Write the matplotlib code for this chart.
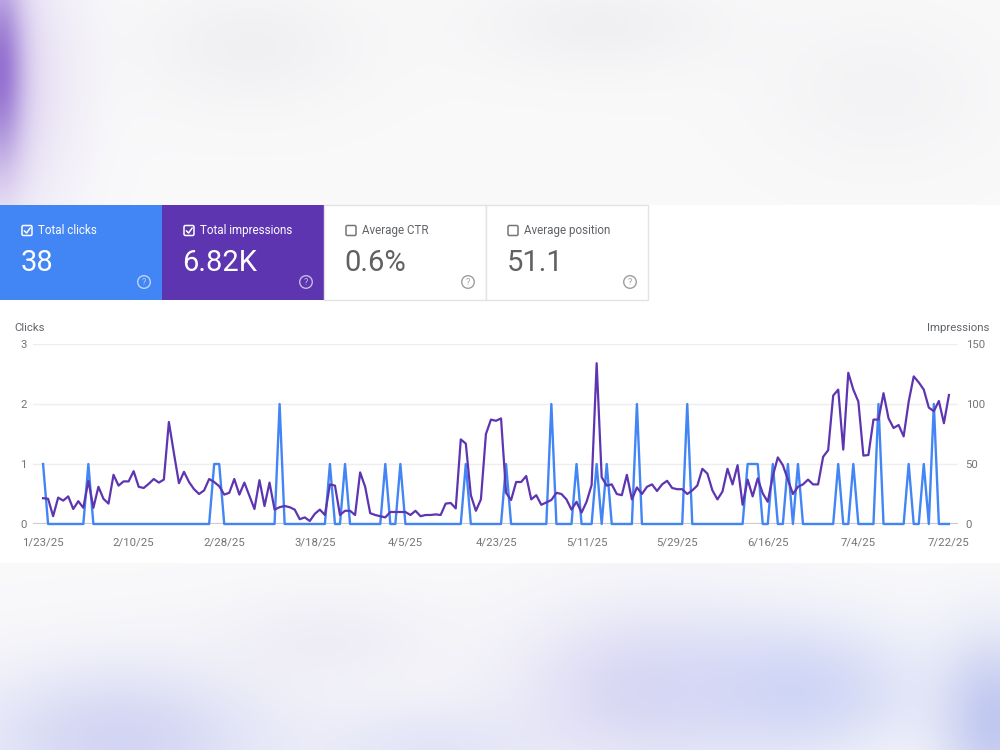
import numpy as np
import matplotlib
matplotlib.use("Agg")
import matplotlib.pyplot as plt
from matplotlib.patches import Rectangle, Circle, FancyBboxPatch

plt.rcParams['font.family'] = ['Roboto', 'DejaVu Sans']

# daily values, 1/23/25 .. 7/22/25 (181 days)
clicks = [
    1, 0, 0, 0, 0, 0, 0, 0, 0, 1,
    0, 0, 0, 0, 0, 0, 0, 0, 0, 0,
    0, 0, 0, 0, 0, 0, 0, 0, 0, 0,
    0, 0, 0, 0, 1, 1, 0, 0, 0, 0,
    0, 0, 0, 0, 0, 0, 0, 2, 0, 0,
    0, 0, 0, 0, 0, 0, 0, 1, 0, 0,
    1, 0, 0, 0, 0, 0, 0, 0, 1, 0,
    0, 1, 0, 0, 0, 0, 0, 0, 0, 0,
    0, 0, 0, 0, 1, 0, 0, 0, 0, 0,
    0, 0, 1, 0, 0, 0, 0, 0, 0, 0,
    0, 2, 0, 0, 0, 0, 1, 0, 0, 0,
    1, 0, 1, 0, 0, 0, 0, 0, 2, 0,
    0, 0, 0, 0, 0, 0, 0, 0, 2, 0,
    0, 0, 0, 0, 0, 0, 0, 0, 0, 0,
    1, 1, 1, 0, 0, 1, 0, 0, 1, 0,
    1, 0, 0, 0, 0, 0, 0, 0, 1, 0,
    0, 1, 0, 0, 0, 0, 2, 0, 0, 0,
    0, 0, 1, 0, 0, 1, 0, 2, 0, 0,
    0,
]
impressions = [
    21.5, 21, 6.5, 22, 19.5, 23, 12.5, 19, 13.5, 36,
    13.5, 31, 21, 17, 41, 32, 35.5, 35.5, 44, 31,
    30, 33.5, 37.5, 34.5, 37, 85, 59, 34, 43.5, 35,
    29, 25, 28, 37.5, 35, 31.5, 24.5, 26, 37.5, 24.5,
    34.5, 23.5, 12.5, 36.5, 15, 34.5, 12, 14, 15, 14,
    12, 4, 5.5, 2.5, 8.5, 12, 7.5, 33, 32, 7.5,
    11, 11, 7.5, 43, 31, 9, 7.5, 6.5, 5.5, 10,
    10, 10, 10, 7.5, 11, 6.5, 7.5, 7.5, 8, 7.5,
    17, 17.5, 13, 70.5, 67, 24, 11, 20.5, 75, 87,
    86, 88, 26, 20, 35, 35, 40, 20.5, 24, 16,
    18, 20, 26, 25, 20.5, 12, 18.5, 9.5, 18.5, 32.5,
    134, 39, 32, 33, 25, 24, 41, 20.5, 30.5, 25,
    31, 33, 27.5, 33, 36, 30, 29, 29, 25, 28,
    32, 46, 42, 28, 20.5, 27, 46, 33, 49, 16,
    37, 23, 38, 25.5, 18.5, 40, 55.5, 49, 37, 25,
    31, 33, 37, 33, 33, 56, 61.5, 107, 112, 62,
    126, 112, 102, 57, 57.5, 87, 87, 109, 88, 80,
    82.5, 73, 102, 123, 118, 112, 97, 94, 102.5, 84,
    107.5,
]
xtick_labels = ["1/23/25", "2/10/25", "2/28/25", "3/18/25", "4/5/25",
                "4/23/25", "5/11/25", "5/29/25", "6/16/25", "7/4/25", "7/22/25"]
tick_step = 18

card_titles = ["Total clicks", "Total impressions", "Average CTR", "Average position"]
card_values = ["38", "6.82K", "0.6%", "51.1"]
card_checked = [True, True, False, False]

BLUE = "#4285f4"
PURPLE = "#5e35b1"
GRAY_TXT = "#757575"

days = np.arange(len(impressions))

fig = plt.figure(figsize=(10, 7.5), dpi=100)

# blurred backdrop of the screenshot
bg = fig.add_axes([0, 0, 1, 1])
bg.set_xlim(0, 1000)
bg.set_ylim(750, 0)
bg.axis("off")

H, W = 750, 1000
yy, xx = np.mgrid[0:H, 0:W]
img = np.ones((H, W, 3)) * np.array([0.978, 0.978, 0.982])

def blob(cx, cy, sx, sy, color, strength):
    w = strength * np.exp(-(((xx - cx) / sx) ** 2 + ((yy - cy) / sy) ** 2) / 2)
    img[:] = img * (1 - w[..., None]) + np.array(color) * w[..., None]

blob(0, 80, 50, 100, (0.78, 0.70, 0.92), 0.5)
blob(0, 70, 16, 65, (0.55, 0.40, 0.80), 0.9)
blob(250, 45, 80, 45, (0.92, 0.92, 0.93), 0.6)
blob(600, 25, 90, 35, (0.92, 0.92, 0.93), 0.6)
blob(880, 90, 80, 55, (0.93, 0.93, 0.94), 0.5)
blob(120, 740, 110, 55, (0.80, 0.81, 0.95), 0.85)
blob(330, 640, 80, 35, (0.90, 0.89, 0.95), 0.5)
blob(430, 750, 90, 35, (0.84, 0.85, 0.96), 0.6)
blob(640, 690, 90, 60, (0.82, 0.81, 0.95), 0.75)
blob(800, 690, 90, 50, (0.78, 0.81, 0.96), 0.8)
blob(995, 720, 40, 60, (0.70, 0.74, 0.93), 0.8)
bg.imshow(img, extent=(0, 1000, 750, 0), aspect="auto", zorder=0)

# white report panel
bg.add_patch(Rectangle((0, 205), 1000, 358, facecolor="white", edgecolor="none", zorder=1))

# metric cards
card_w = 162
for i, (title, val, checked) in enumerate(zip(card_titles, card_values, card_checked)):
    x0 = i * card_w
    if i == 0:
        fc, tc, vc, ic = BLUE, "white", "white", (1, 1, 1, 0.65)
    elif i == 1:
        fc, tc, vc, ic = PURPLE, "white", "white", (1, 1, 1, 0.65)
    else:
        fc, tc, vc, ic = "white", "#5f6368", "#616161", "#9e9e9e"
    bg.add_patch(Rectangle((x0, 205), card_w, 95, facecolor=fc,
                           edgecolor="#e3e3e3" if i > 1 else "none", lw=1, zorder=2))
    # checkbox
    bc = "white" if checked else "#757575"
    bg.add_patch(FancyBboxPatch((x0 + 22, 225.5), 10, 10, boxstyle="round,pad=0,rounding_size=1.5",
                                facecolor="none", edgecolor=bc, lw=1.1, zorder=3))
    if checked:
        bg.plot([x0 + 24.3, x0 + 26.6, x0 + 30.2], [230.8, 233.0, 228.0],
                color="white", lw=1.1, zorder=4, solid_capstyle="round")
    bg.text(x0 + 38, 230.5, title, color=tc, fontsize=8.4, va="center", ha="left", zorder=4)
    bg.text(x0 + 20.5, 263, val, color=vc, fontsize=21, va="center", ha="left", zorder=4)
    # help icon
    bg.add_patch(Circle((x0 + 144, 282), 6.3, facecolor="none", edgecolor=ic, lw=1.0, zorder=3))
    bg.text(x0 + 144, 282.5, "?", color=ic, fontsize=6.5, ha="center", va="center", zorder=4)

bg.text(14, 328, "Clicks", color="#5f6368", fontsize=8.2, va="center", ha="left", zorder=4)
bg.text(989, 328, "Impressions", color="#5f6368", fontsize=8.2, va="center", ha="right", zorder=4)

# chart
ax = fig.add_axes([0.033, 1 - 524 / 750, 0.925, 180 / 750])
ax.set_facecolor("none")
ax2 = ax.twinx()
ax2.set_facecolor("none")

ax.set_xlim(-2.0, 181.8)
ax.set_ylim(0, 3)
ax2.set_ylim(0, 150)
ax.set_yticks([0, 1, 2, 3])
ax2.set_yticks([0, 50, 100, 150])
xt = np.arange(0, len(days), tick_step)
ax.set_xticks(xt)
ax.set_xticklabels(xtick_labels)

for a in (ax, ax2):
    for s in a.spines.values():
        s.set_visible(False)
ax.grid(axis="y", color="#eeeeee", lw=1)
ax.set_axisbelow(True)
ax.axhline(0, color="#cccccc", lw=1.6, zorder=1)

ax.tick_params(axis="y", length=0, labelcolor=GRAY_TXT, labelsize=8.2, pad=4.5)
ax2.tick_params(axis="y", length=0, labelcolor=GRAY_TXT, labelsize=8.2, pad=5.5)
ax.tick_params(axis="x", length=0, labelcolor=GRAY_TXT, labelsize=8.2, pad=10)

ax.plot(days, clicks, color=BLUE, lw=1.7, clip_on=False, zorder=3)
ax2.plot(days, impressions, color=PURPLE, lw=1.6, clip_on=False, zorder=3)

fig.savefig("out.png", dpi=100)
